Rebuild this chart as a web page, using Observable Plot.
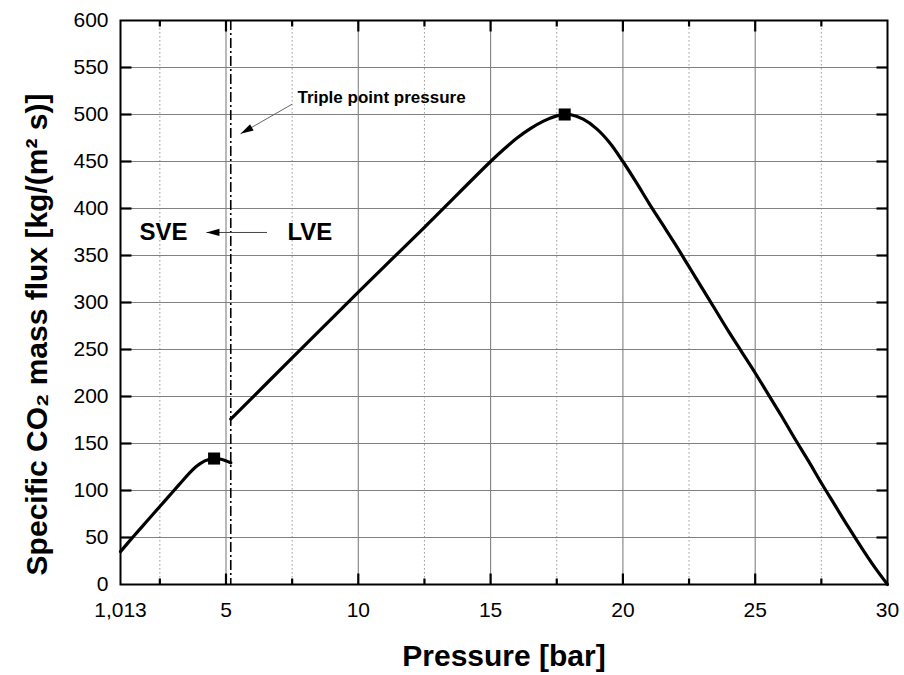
<!DOCTYPE html>
<html>
<head>
<meta charset="utf-8">
<script src="https://cdn.jsdelivr.net/npm/d3@7"></script>
<script src="https://cdn.jsdelivr.net/npm/@observablehq/plot@0.6"></script>
<style>
  html, body { margin: 0; padding: 0; background: #fff; }
  #chart svg { display: block; }
</style>
</head>
<body>
<div id="chart"></div>
<script>
// Solid–vapour equilibrium branch (below the triple point): pressure [bar], flux [kg/(m² s)]
const svePressure = [1.013, 1.5, 2.0, 2.5, 3.0, 3.3, 3.6, 3.9, 4.2, 4.55, 4.85, 5.18];
const sveFlux     = [35, 51, 67, 83, 99, 108.5, 118, 126, 131.5, 134, 133, 129.5];

// Liquid–vapour equilibrium branch (above the triple point)
const lvePressure = [5.18, 7.5, 10, 12.5, 15, 15.5, 16, 16.5, 17, 17.5, 17.8, 18, 18.5, 19, 19.5, 20, 20.5, 21, 21.5, 22, 22.5, 23, 23.5, 24, 24.5, 25, 25.5, 26, 26.5, 27, 27.5, 28, 28.5, 29, 29.5, 30];
const lveFlux     = [176, 241, 311, 380, 450, 463, 475, 485, 493, 498.5, 500, 500, 495, 485, 470, 450, 428, 405, 383, 361, 338, 315, 292, 269, 247, 225, 202, 179, 155, 132, 108, 85, 62, 40, 19, 0];

// Flux maxima of both branches
const peakPressure = [4.55, 17.8];
const peakFlux     = [134, 500];

// CO2 triple point pressure [bar]
const triplePoint = 5.18;

// Axis ticks and grid
const xTickValues = [1.013, 5, 10, 15, 20, 25, 30];
const xTickLabels = ["1,013", "5", "10", "15", "20", "25", "30"];
const xMajorGrid  = [5, 10, 15, 20, 25];
const xMinorGrid  = [2.5, 7.5, 12.5, 17.5, 22.5, 27.5];
const yTickValues = [0, 50, 100, 150, 200, 250, 300, 350, 400, 450, 500, 550, 600];
const yGrid       = [50, 100, 150, 200, 250, 300, 350, 400, 450, 500, 550];

// Annotations
const tripleLabel  = "Triple point pressure";
const tripleLabelX = 7.7;
const tripleLabelY = 518;
const regionLabels = ["SVE", "LVE"];
const regionX      = [2.64, 8.17];
const regionY      = [374.5, 374.5];
const arrowStartX  = [7.5, 6.55];
const arrowStartY  = [511, 374.5];
const arrowTipX    = [5.55, 4.26];
const arrowTipY    = [479.5, 374.5];
const arrowColor   = ["#666", "#444"];

const W = 904, H = 675;
const mL = 120, mR = 17, mT = 20, mB = 91;
const xDomain = [1.013, 30], yDomain = [0, 600];

const sve = svePressure.map((p, i) => ({p, f: sveFlux[i]}));
const lve = lvePressure.map((p, i) => ({p, f: lveFlux[i]}));
const peaks = peakPressure.map((p, i) => ({p, f: peakFlux[i]}));
const regions = regionLabels.map((t, i) => ({t, x: regionX[i], y: regionY[i]}));

// Scales matching the plot, for screen-space geometry of arrows and ticks
const sx = Plot.scale({x: {domain: xDomain, range: [mL, W - mR]}});
const sy = Plot.scale({y: {domain: yDomain, range: [H - mB, mT]}});
const xPerPx = (xDomain[1] - xDomain[0]) / (W - mL - mR);
const yPerPx = (yDomain[1] - yDomain[0]) / (H - mT - mB);

const arrows = arrowStartX.map((x1, i) => {
  const dx = sx.apply(arrowTipX[i]) - sx.apply(x1);
  const dy = sy.apply(arrowTipY[i]) - sy.apply(arrowStartY[i]);
  return {x1, y1: arrowStartY[i], x2: arrowTipX[i], y2: arrowTipY[i], color: arrowColor[i],
          angle: Math.atan2(dx, -dy) * 180 / Math.PI};
});

// Narrow triangle with its tip at the origin, pointing up
const arrowHead = {
  draw(ctx) {
    ctx.moveTo(0, 0);
    ctx.lineTo(-3.6, 13);
    ctx.lineTo(3.6, 13);
    ctx.closePath();
  }
};

// Inward tick segments on all four sides of the frame (lengths in pixels)
const majorLen = 11, minorLen = 6;
const [x0, x1] = xDomain, [y0, y1] = yDomain;
const tickSegments = [
  ...xMajorGrid.map(v => ({x1: v, x2: v, y1: y0, y2: y0 + majorLen * yPerPx})),
  ...xMinorGrid.map(v => ({x1: v, x2: v, y1: y0, y2: y0 + minorLen * yPerPx})),
  ...xMajorGrid.map(v => ({x1: v, x2: v, y1: y1, y2: y1 - majorLen * yPerPx})),
  ...xMinorGrid.map(v => ({x1: v, x2: v, y1: y1, y2: y1 - minorLen * yPerPx})),
  ...yGrid.map(v => ({x1: x0, x2: x0 + majorLen * xPerPx, y1: v, y2: v})),
  ...yGrid.map(v => ({x1: x1, x2: x1 - majorLen * xPerPx, y1: v, y2: v}))
];

const font = "'Liberation Sans', Arial, Helvetica, sans-serif";

const chart = Plot.plot({
  width: W,
  height: H,
  marginLeft: mL,
  marginRight: mR,
  marginTop: mT,
  marginBottom: mB,
  style: {fontFamily: font, fontSize: "21px", color: "black", background: "white"},
  x: {domain: xDomain, axis: null},
  y: {domain: yDomain, axis: null},
  marks: [
    // grid
    Plot.ruleX(xMinorGrid, {stroke: "#9a9a9a", strokeWidth: 1, strokeDasharray: "1.5,2.5"}),
    Plot.ruleX(xMajorGrid, {stroke: "#808080", strokeWidth: 1.1}),
    Plot.ruleY(yGrid, {stroke: "#808080", strokeWidth: 1.1}),
    // triple point
    Plot.ruleX([triplePoint], {stroke: "black", strokeWidth: 1.6, strokeDasharray: "10,3,2,3"}),
    // flux curves
    Plot.line(sve, {x: "p", y: "f", curve: "catmull-rom", stroke: "black", strokeWidth: 3.2}),
    Plot.line(lve, {x: "p", y: "f", curve: "catmull-rom", stroke: "black", strokeWidth: 3.2}),
    Plot.dot(peaks, {x: "p", y: "f", symbol: "square", r: 6.8, fill: "black", stroke: null}),
    // annotations
    Plot.link(arrows, {x1: "x1", y1: "y1", x2: "x2", y2: "y2", stroke: "color", strokeWidth: 1}),
    Plot.dot(arrows, {x: "x2", y: "y2", symbol: arrowHead, rotate: "angle", fill: "black", stroke: null}),
    Plot.text([tripleLabel], {text: d => d, x: tripleLabelX, y: tripleLabelY, textAnchor: "start", fontSize: 17, fontWeight: "bold"}),
    Plot.text(regions, {x: "x", y: "y", text: "t", fontSize: 24, fontWeight: "bold"}),
    // frame and inward ticks
    Plot.frame({stroke: "black", strokeWidth: 2}),
    Plot.link(tickSegments, {x1: "x1", y1: "y1", x2: "x2", y2: "y2", stroke: "black", strokeWidth: 2.2}),
    // tick labels
    Plot.axisX(xTickValues, {anchor: "bottom", tickSize: 0, tickPadding: 18, label: null, fontSize: 21,
      tickFormat: d => xTickLabels[xTickValues.indexOf(d)]}),
    Plot.axisY(yTickValues, {anchor: "left", tickSize: 0, tickPadding: 12, label: null, fontSize: 21}),
    // axis titles
    Plot.text(["Pressure [bar]"], {text: d => d, frameAnchor: "bottom", dy: 72, fontSize: 30, fontWeight: "bold", lineAnchor: "middle", textAnchor: "middle"}),
    Plot.text(["Specific CO₂ mass flux [kg/(m² s)]"], {text: d => d, frameAnchor: "left", dx: -83, dy: 32, rotate: -90, fontSize: 30, fontWeight: "bold", lineAnchor: "middle", textAnchor: "middle"})
  ]
});

document.getElementById("chart").appendChild(chart);
</script>
</body>
</html>
